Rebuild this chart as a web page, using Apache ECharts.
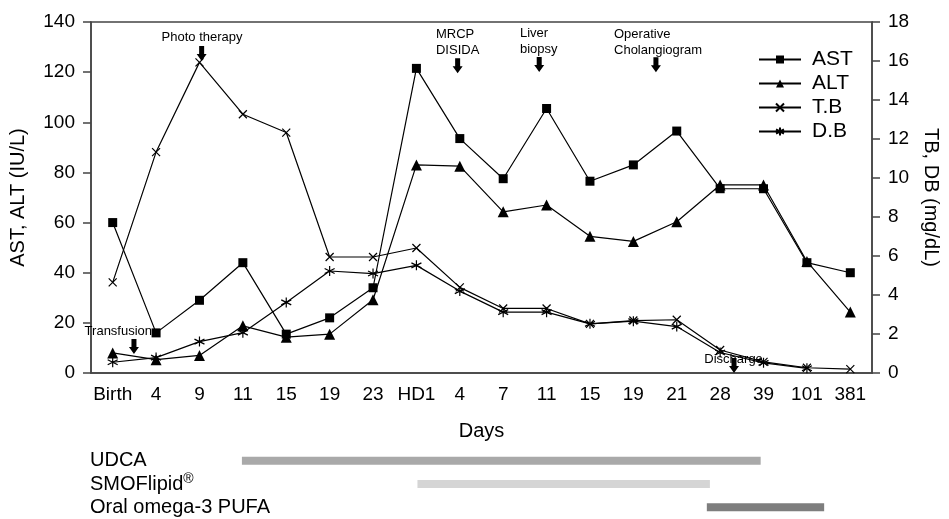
<!DOCTYPE html>
<html>
<head>
<meta charset="utf-8">
<script src="https://cdn.jsdelivr.net/npm/echarts@6.0.0/dist/echarts.min.js"></script>
<style>
  html, body { margin: 0; padding: 0; background: #fff; }
  #chart { width: 949px; height: 519px; }
</style>
</head>
<body>
<div id="chart"></div>
<script>
// x axis categories (days)
const days = ["Birth", "4", "9", "11", "15", "19", "23", "HD1", "4", "7", "11", "15", "19", "21", "28", "39", "101", "381"];

// left axis (IU/L)
const ast = [60, 16, 29, 44, 15.5, 22, 34, 121.5, 93.5, 77.5, 105.5, 76.5, 83, 96.5, 73.5, 73.5, 44, 40];
const alt = [8, 5.3, 7, 18.8, 14.3, 15.5, 29.2, 83, 82.5, 64.3, 67, 54.5, 52.5, 60.3, 75, 75, 44.5, 24.3];

// right axis (mg/dL)
const tb = [4.65, 11.33, 15.93, 13.27, 12.33, 5.95, 5.95, 6.41, 4.39, 3.31, 3.31, 2.52, 2.69, 2.73, 1.18, 0.57, 0.27, 0.2];
const db = [0.55, 0.79, 1.61, 2.07, 3.62, 5.23, 5.1, 5.52, 4.2, 3.12, 3.12, 2.52, 2.66, 2.38, 1.05, 0.52, 0.24, null];

// events: arrow position (day index, IU/L) and text centre (day index, IU/L)
const noteText = ["Photo therapy", "MRCP\nDISIDA", "Liver\nbiopsy", "Operative\nCholangiogram", "Transfusion", "Discharge"];
const noteX = [2.05, 7.95, 9.83, 12.52, 0.49, 14.32];
const noteY = [124.4, 119.6, 120.1, 120, 7.6, 0];
const noteTextX = [2.06, 7.95, 9.82, 12.57, 0.13, 14.31];
const noteTextY = [134, 132, 132.2, 131.8, 16.4, 5.6];

// treatments: start / end in day index units
const drugs = ["UDCA", "SMOFlipid", "Oral omega-3 PUFA"];
const drugStart = [2.97, 6.98, 13.59];
const drugEnd = [14.82, 13.66, 16.27];
const drugColors = ["#a9a9a9", "#d5d5d5", "#7e7e7e"];

const FONT = "'Liberation Sans', Arial, sans-serif";
const AXIS_COLOR = "#444";

const crossPath = "path://M0,0L10,10M10,0L0,10";
const starPath = "path://M5,0L5,10M0.7,2.5L9.3,7.5M0.7,7.5L9.3,2.5";

let chart = echarts.init(document.getElementById("chart"));

function lineSeries(name, data, yIdx, symbol, size, stroked) {
    return {
        name: name,
        type: "line",
        xAxisIndex: 0,
        yAxisIndex: yIdx,
        data: data,
        symbol: symbol,
        symbolSize: size,
        showSymbol: true,
        connectNulls: false,
        animation: false,
        lineStyle: { color: "#000", width: 1.2 },
        itemStyle: stroked
            ? { color: "#000", borderColor: "#000", borderWidth: 1.2 }
            : { color: "#000", borderWidth: 0 },
        z: 3
    };
}

let option = {
    animation: false,
    textStyle: { fontFamily: FONT, color: "#000" },
    grid: [
        { left: 90, right: 71, top: 22, bottom: 146, show: true, borderColor: AXIS_COLOR, borderWidth: 1.5 },
        { left: 90, right: 71, top: 449, height: 73 }
    ],
    legend: {
        orient: "vertical",
        left: 753,
        top: 44,
        itemWidth: 42,
        itemHeight: 10,
        itemGap: 3,
        data: ["AST", "ALT", "T.B", "D.B"],
        textStyle: { fontSize: 21, color: "#000", fontFamily: FONT, padding: [0, 0, 0, 6] }
    },
    xAxis: [
        {
            type: "category",
            gridIndex: 0,
            data: days,
            name: "Days",
            nameLocation: "middle",
            nameGap: 48,
            nameTextStyle: { fontSize: 20, color: "#000" },
            axisLine: { onZero: false, lineStyle: { color: AXIS_COLOR, width: 1.5 } },
            axisTick: { length: 9, lineStyle: { color: AXIS_COLOR, width: 1.5 } },
            axisLabel: { interval: 0, fontSize: 19, color: "#000", margin: 12 },
            splitLine: { show: false }
        },
        { type: "value", gridIndex: 0, min: -0.5, max: 17.5, show: false },
        { type: "value", gridIndex: 1, min: -0.5, max: 17.5, show: false }
    ],
    yAxis: [
        {
            type: "value",
            gridIndex: 0,
            min: 0,
            max: 140,
            interval: 20,
            name: "AST, ALT (IU/L)",
            nameLocation: "middle",
            nameRotate: 90,
            nameGap: 63,
            nameTextStyle: { fontSize: 20, color: "#000" },
            axisLine: { show: true, onZero: false, lineStyle: { color: AXIS_COLOR, width: 1.5 } },
            axisTick: { show: true, length: 8, lineStyle: { color: AXIS_COLOR, width: 1.5 } },
            axisLabel: { fontSize: 19, color: "#000", margin: 16 },
            splitLine: { show: false }
        },
        {
            type: "value",
            gridIndex: 0,
            position: "right",
            min: 0,
            max: 18,
            interval: 2,
            name: "TB, DB (mg/dL)",
            nameLocation: "middle",
            nameRotate: -90,
            nameGap: 49,
            nameTextStyle: { fontSize: 20, color: "#000" },
            axisLine: { show: true, onZero: false, lineStyle: { color: AXIS_COLOR, width: 1.5 } },
            axisTick: { show: true, length: 8, lineStyle: { color: AXIS_COLOR, width: 1.5 } },
            axisLabel: { fontSize: 19, color: "#000", margin: 16 },
            splitLine: { show: false }
        },
        {
            type: "category",
            gridIndex: 1,
            inverse: true,
            data: drugs,
            axisLine: { show: false, onZero: false },
            axisTick: { show: false },
            axisLabel: {
                interval: 0,
                hideOverlap: false,
                align: "left",
                margin: 0,
                fontSize: 20,
                color: "#000",
                formatter: v => v === "SMOFlipid" ? "SMOFlipid{sup|®}" : v,
                rich: {
                    sup: { fontSize: 14, verticalAlign: "top", padding: [0, 0, 10, 0], color: "#000" }
                }
            }
        }
    ],
    series: [
        lineSeries("AST", ast, 0, "rect", 9, false),
        lineSeries("ALT", alt, 0, "triangle", 11, false),
        lineSeries("T.B", tb, 1, crossPath, 8, true),
        lineSeries("D.B", db, 1, starPath, 10, true),
        {
            type: "custom",
            xAxisIndex: 1,
            yAxisIndex: 0,
            silent: true,
            clip: false,
            z: 5,
            encode: { x: [0, 2], y: [1, 3] },
            data: noteX.map((x, i) => [x, noteY[i], noteTextX[i], noteTextY[i]]),
            renderItem: (params, api) => {
                let tip = api.coord([api.value(0), api.value(1)]);
                let txt = api.coord([api.value(2), api.value(3)]);
                let x = tip[0], y = tip[1];
                let lines = noteText[params.dataIndex].split("\n").map(s => "{l|" + s + "}").join("\n");
                return {
                    type: "group",
                    children: [
                        {
                            type: "polygon",
                            shape: {
                                points: [
                                    [x - 2.5, y - 15], [x + 2.5, y - 15], [x + 2.5, y - 7], [x + 5, y - 7],
                                    [x, y], [x - 5, y - 7], [x - 2.5, y - 7]
                                ]
                            },
                            style: { fill: "#000" }
                        },
                        {
                            type: "text",
                            x: txt[0],
                            y: txt[1],
                            style: {
                                text: lines,
                                align: "center",
                                verticalAlign: "middle",
                                fontFamily: FONT,
                                fontSize: 13,
                                fill: "#000",
                                rich: { l: { align: "left", fontSize: 13, lineHeight: 16, fontFamily: FONT, fill: "#000" } }
                            }
                        }
                    ]
                };
            }
        },
        {
            type: "custom",
            xAxisIndex: 2,
            yAxisIndex: 2,
            silent: true,
            encode: { x: [0, 1], y: 2 },
            data: drugStart.map((s, i) => [s, drugEnd[i], i]),
            renderItem: (params, api) => {
                let p0 = api.coord([api.value(0), api.value(2)]);
                let p1 = api.coord([api.value(1), api.value(2)]);
                return {
                    type: "rect",
                    shape: { x: p0[0], y: p0[1] - 4, width: p1[0] - p0[0], height: 8 },
                    style: { fill: drugColors[params.dataIndex] }
                };
            }
        }
    ]
};

chart.setOption(option);
</script>
</body>
</html>
